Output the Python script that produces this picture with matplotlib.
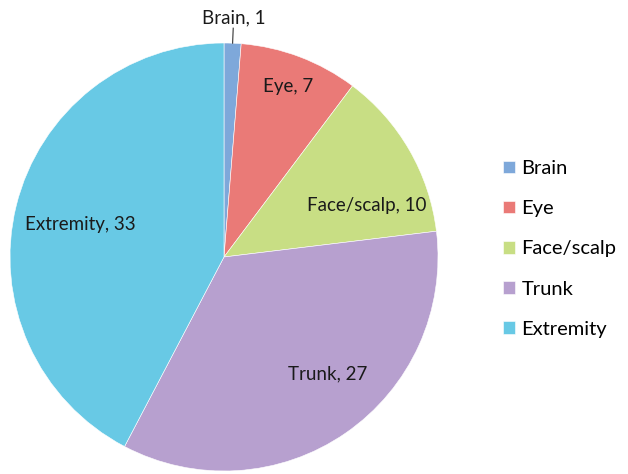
import numpy as np
import matplotlib.pyplot as plt

plt.rcParams["font.family"] = ["Lato", "DejaVu Sans"]

# Data
categories = ["Brain", "Eye", "Face/scalp", "Trunk", "Extremity"]
counts = [1, 7, 10, 27, 33]
colors = ["#7ea8da", "#ea7a77", "#c8de84", "#b7a0cf", "#68c9e5"]

# label placement (radius fraction, angle shift in degrees)
label_pos = [(1.12, 0.0), (0.85, 0.0), (0.71, -10.0), (0.73, 7.0), (0.69, 1.0)]

fig = plt.figure(figsize=(6.28, 4.74), dpi=100)
ax = fig.add_axes([224 / 628 - 214 / 628, (474 - 257) / 474 - 214 / 474,
                   428 / 628, 428 / 474])

wedges, _ = ax.pie(counts, colors=colors, startangle=90, counterclock=False,
                   radius=1.0, wedgeprops=dict(linewidth=0.4, edgecolor="white"))
ax.set_xlim(-1, 1)
ax.set_ylim(-1, 1)
ax.set_aspect("auto")
ax.axis("off")

for w, cat, n, (r, shift) in zip(wedges, categories, counts, label_pos):
    mid = np.deg2rad((w.theta1 + w.theta2) / 2 + shift)
    x, y = r * np.cos(mid), r * np.sin(mid)
    ax.text(x, y, f"{cat}, {n}", ha="center", va="center", fontsize=13.5,
            color="#1a1a1a", clip_on=False)
    if r > 1:
        ax.plot([np.cos(mid), 1.07 * np.cos(mid)], [np.sin(mid), 1.07 * np.sin(mid)],
                color="#333333", linewidth=0.8, clip_on=False)

fig.legend(wedges, categories, loc="center left", bbox_to_anchor=(485 / 628, 0.475),
           frameon=False, fontsize=14.5, handlelength=0.6, handleheight=0.6,
           handletextpad=0.3, labelspacing=1.15)

fig.savefig("out.png", dpi=100)
